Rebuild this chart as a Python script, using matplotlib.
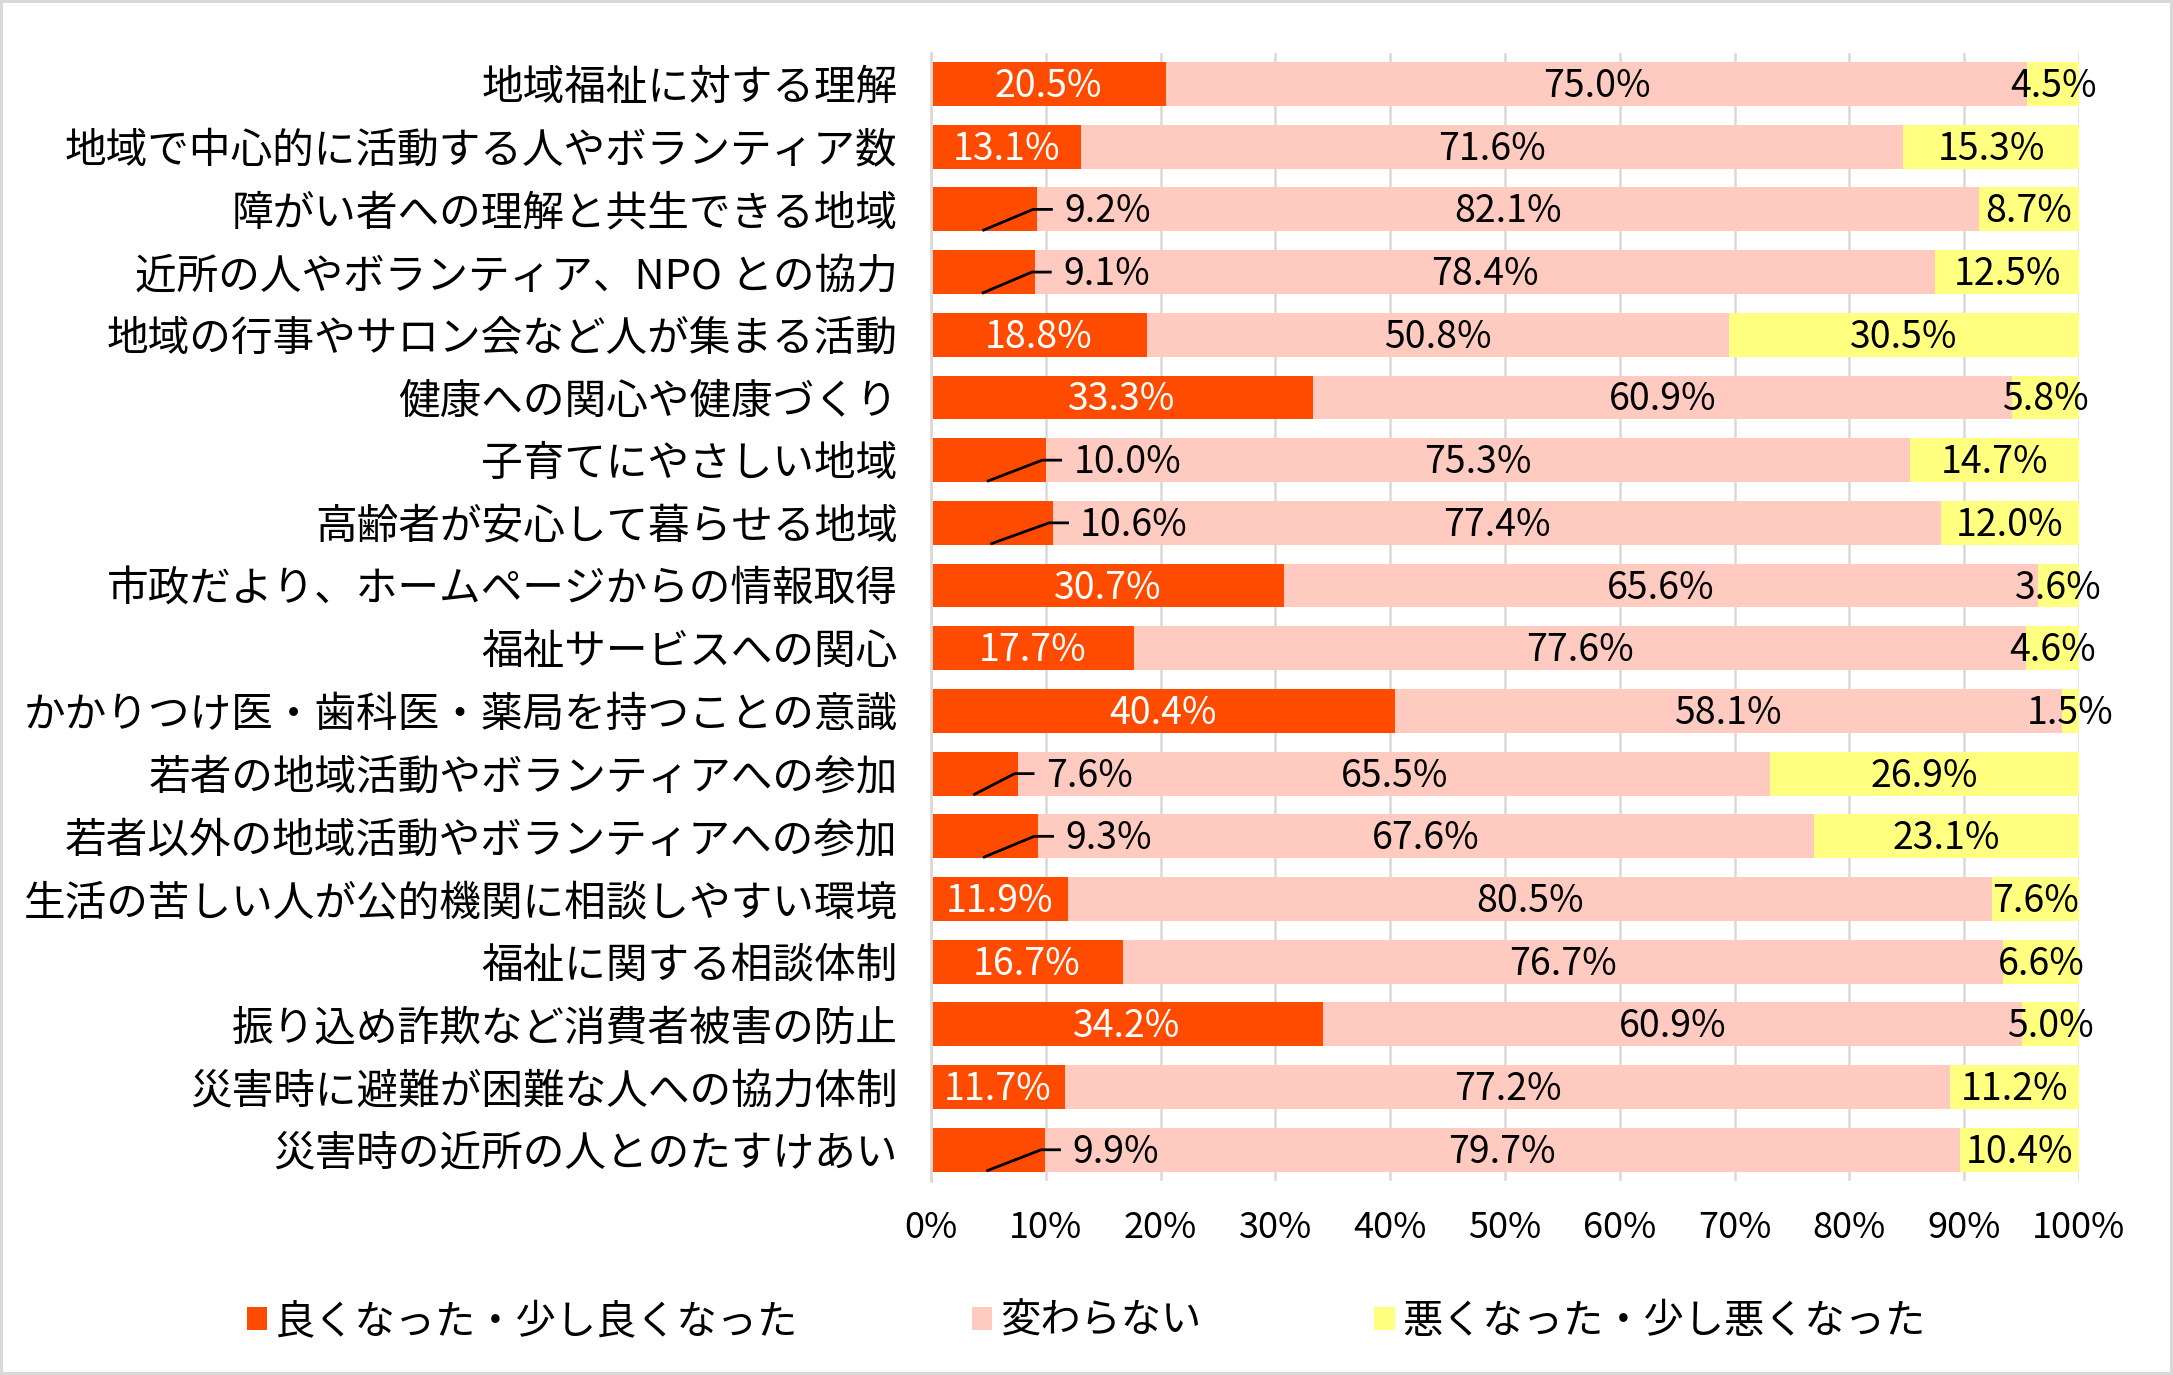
import numpy as np
import matplotlib
matplotlib.use("Agg")
import matplotlib.pyplot as plt
from matplotlib.patches import Patch

plt.rcParams['font.family'] = ['Noto Sans CJK JP', 'DejaVu Sans']

categories = [
    "地域福祉に対する理解",
    "地域で中心的に活動する人やボランティア数",
    "障がい者への理解と共生できる地域",
    "近所の人やボランティア、NPO との協力",
    "地域の行事やサロン会など人が集まる活動",
    "健康への関心や健康づくり",
    "子育てにやさしい地域",
    "高齢者が安心して暮らせる地域",
    "市政だより、ホームページからの情報取得",
    "福祉サービスへの関心",
    "かかりつけ医・歯科医・薬局を持つことの意識",
    "若者の地域活動やボランティアへの参加",
    "若者以外の地域活動やボランティアへの参加",
    "生活の苦しい人が公的機関に相談しやすい環境",
    "福祉に関する相談体制",
    "振り込め詐欺など消費者被害の防止",
    "災害時に避難が困難な人への協力体制",
    "災害時の近所の人とのたすけあい",
]
good = [20.5, 13.1, 9.2, 9.1, 18.8, 33.3, 10.0, 10.6, 30.7, 17.7,
        40.4, 7.6, 9.3, 11.9, 16.7, 34.2, 11.7, 9.9]
same = [75.0, 71.6, 82.1, 78.4, 50.8, 60.9, 75.3, 77.4, 65.6, 77.6,
        58.1, 65.5, 67.6, 80.5, 76.7, 60.9, 77.2, 79.7]
bad = [4.5, 15.3, 8.7, 12.5, 30.5, 5.8, 14.7, 12.0, 3.6, 4.6,
       1.5, 26.9, 23.1, 7.6, 6.6, 5.0, 11.2, 10.4]
legend_labels = ["良くなった・少し良くなった", "変わらない", "悪くなった・少し悪くなった"]
colors = ["#FF4B00", "#FFCAC0", "#FFFF80"]

# 100% stacked: normalize each row
vals = np.array([good, same, bad])
pct = vals / vals.sum(axis=0) * 100

fig = plt.figure(figsize=(21.73, 13.75), dpi=100)
fig.patch.set_edgecolor("#d9d9d9")
fig.patch.set_linewidth(3)
ax = fig.add_axes([0.4284, 0.141, 0.5283, 0.8207])

y = np.arange(len(categories))
left = np.zeros(len(categories))
dy = 0.04  # small downward nudge of value labels
for i in range(3):
    ax.barh(y, pct[i], left=left, height=0.70, color=colors[i], zorder=2)
    for j in range(len(categories)):
        v = vals[i, j]
        w = pct[i, j]
        txt = f"{v:.1f}%"
        if i == 0 and v < 11:
            # leader line for small values
            ax.plot([w / 2, w - 0.3, w + 1.3], [y[j] + 0.33, y[j], y[j]],
                    color="black", lw=2, zorder=3)
            ax.text(w + 2.4, y[j] + dy, txt, ha="left", va="center",
                    fontsize=27, color="black", zorder=4)
        else:
            ax.text(left[j] + w / 2, y[j] + dy, txt, ha="center", va="center",
                    fontsize=27, color="white" if i == 0 else "black", zorder=4)
    left = left + pct[i]

ax.set_xlim(0, 100)
ax.set_ylim(len(categories) - 0.5, -0.5)
ax.set_yticks(y)
ax.set_yticklabels(categories)
ax.set_xticks(np.arange(0, 101, 10))
ax.set_xticklabels([f"{t}%" for t in range(0, 101, 10)])
ax.tick_params(axis="y", length=0, pad=24, labelsize=30)
ax.tick_params(axis="x", length=0, pad=21, labelsize=26)
ax.set_axisbelow(True)
ax.xaxis.grid(True, color="#d9d9d9", lw=1.8, zorder=0)
for s in ["top", "right", "bottom"]:
    ax.spines[s].set_visible(False)
ax.spines["left"].set_color("#d9d9d9")
ax.spines["left"].set_linewidth(2)

handles = [Patch(facecolor=c) for c in colors]
fig.legend(handles, legend_labels, loc="center", bbox_to_anchor=(0.5, 0.039),
           ncol=3, frameon=False, fontsize=29, handlelength=0.5, handleheight=0.5,
           handletextpad=0.2, columnspacing=4.3)

plt.savefig("out.png", dpi=100, edgecolor=fig.get_edgecolor())
plt.close()
